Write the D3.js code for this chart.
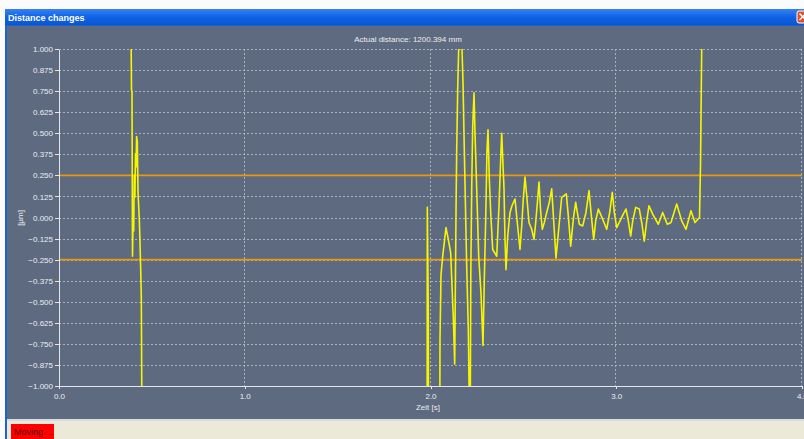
<!DOCTYPE html>
<meta charset="utf-8">
<style>
    body {
        margin: 0;
        background-color: #fbfbfb;
    }
    text {
        font-family: "Liberation Sans", Arial, sans-serif;
    }
    .grid line {
        stroke: #aab0bc;
        stroke-width: 1px;
        stroke-dasharray: 2,2;
        shape-rendering: crispEdges;
    }
    .axis path,
    .axis line {
        fill: none;
        stroke: #e4e6ea;
        stroke-width: 1px;
        shape-rendering: crispEdges;
    }
    .axis text {
        fill: #eceef2;
        font-size: 8px;
    }
</style>
<svg width="804" height="439"></svg>
<script src="https://d3js.org/d3.v7.min.js"></script>

<script>
    // time [s] and distance change [µm]; +-1.3 = off scale
    var timeSec = [
        0.3865, 0.3903, 0.3930, 0.3957, 0.3995, 0.4022, 0.4054, 0.4086, 0.4118, 0.4145,
        0.4178, 0.4215, 0.4253, 0.4323, 0.4361, 0.4398, 0.4431, 0.4468,
        1.9820, 1.9828, 1.9882, 1.9890,
        2.0500, 2.0511, 2.0565, 2.0657, 2.0834, 2.0958, 2.1087, 2.1174, 2.1228, 2.1303,
        2.1373, 2.1410, 2.1464, 2.1518, 2.1561, 2.1669, 2.1696, 2.1750, 2.1820, 2.1949,
        2.2035, 2.2089, 2.2143, 2.2170, 2.2218, 2.2272, 2.2342, 2.2396, 2.2487, 2.2595,
        2.2719, 2.2826, 2.2896, 2.2972, 2.3042, 2.3096, 2.3166, 2.3241, 2.3349, 2.3564,
        2.3688, 2.3796, 2.3833, 2.3957, 2.4011, 2.4065, 2.4156, 2.4280, 2.4388, 2.4549,
        2.4673, 2.4818, 2.4910, 2.4996, 2.5087, 2.5179, 2.5303, 2.5448, 2.5572, 2.5663,
        2.5771, 2.5841, 2.5933, 2.6019, 2.6127, 2.6256, 2.6396, 2.6525, 2.6756, 2.6918,
        2.7063, 2.7187, 2.7311, 2.7419, 2.7548, 2.7688, 2.7817, 2.7903, 2.8011, 2.8194,
        2.8371, 2.8533, 2.8641, 2.8786, 2.8894, 2.9034, 2.9270, 2.9486, 2.9663, 2.9787,
        2.9895, 3.0024, 3.0202, 3.0379, 3.0525, 3.0649, 3.0778, 3.0886, 3.1047, 3.1241,
        3.1386, 3.1510, 3.1640, 3.1763, 3.1962, 3.2264, 3.2500, 3.2748, 3.2947, 3.3254,
        3.3523, 3.3755, 3.4024, 3.4239, 3.4482, 3.4536, 3.4600, 3.4643
    ];
    var distUm = [
        1.30, 0.76, 0.74, -0.23, 0.05, -0.08, 0.25, 0.12, 0.38, 0.30,
        0.48, 0.45, 0.15, -0.01, -0.15, -0.31, -0.47, -1.30,
        -1.30, 0.06, -0.56, -1.30,
        -1.30, -0.73, -0.34, -0.23, -0.06, -0.13, -0.21, -0.45, -0.59, -0.87,
        0.03, 0.40, 0.76, 1.00, 1.30, 1.30, 1.00, 0.80, 0.40, -0.29,
        -0.66, -1.10, -1.10, -0.33, 0.17, 0.54, 0.74, 0.50, 0.17, -0.23,
        -0.45, -0.76, -0.37, -0.01, 0.40, 0.52, 0.23, 0.03, -0.19, -0.23,
        0.07, 0.40, 0.50, 0.17, -0.13, -0.31, -0.11, 0.03, 0.07, 0.11,
        -0.03, -0.19, -0.05, 0.11, 0.24, 0.13, -0.03, -0.07, -0.13, -0.03,
        0.11, 0.21, 0.03, -0.07, -0.03, 0.03, 0.09, 0.17, -0.24, -0.05,
        0.12, 0.13, 0.14, 0.01, -0.17, -0.01, 0.09, 0.03, -0.04, -0.05,
        0.03, 0.16, 0.03, -0.13, -0.02, 0.05, -0.01, -0.07, 0.04, 0.15,
        0.03, -0.06, -0.02, 0.02, 0.05, -0.02, -0.11, -0.02, 0.06, 0.05,
        -0.04, -0.14, -0.02, 0.07, 0.02, -0.04, 0.03, -0.04, -0.03, 0.08,
        -0.02, -0.07, 0.04, -0.03, 0.00, 0.31, 1.00, 1.30
    ];
    var limitLines = [0.25, -0.25];
    var yTicks = [1, 0.875, 0.75, 0.625, 0.5, 0.375, 0.25, 0.125, 0, -0.125, -0.25, -0.375, -0.5, -0.625, -0.75, -0.875, -1];
    var xTicks = [0, 1, 2, 3, 4];

    var svg = d3.select("svg"),
        margin = {top: 49, left: 59},
        width = 743,
        height = 337;

    // window chrome
    svg.append("rect").attr("x", 0).attr("y", 0).attr("width", 804).attr("height", 439).attr("fill", "#fbfbfb");
    var tb = svg.append("defs").append("linearGradient").attr("id", "tb").attr("x1", 0).attr("y1", 0).attr("x2", 0).attr("y2", 1);
    tb.append("stop").attr("offset", "0").attr("stop-color", "#3582f4");
    tb.append("stop").attr("offset", "0.5").attr("stop-color", "#0f63e6");
    tb.append("stop").attr("offset", "1").attr("stop-color", "#0a57d0");
    svg.append("rect").attr("x", 5).attr("y", 9).attr("width", 799).attr("height", 430).attr("fill", "#1b62d8");
    svg.append("rect").attr("x", 5).attr("y", 9).attr("width", 799).attr("height", 16).attr("fill", "url(#tb)");
    svg.append("text").attr("x", 8).attr("y", 21)
        .style("font-size", "9px").style("font-weight", "bold").attr("fill", "#ffffff")
        .text("Distance changes");
    svg.append("rect").attr("x", 797).attr("y", 11).attr("width", 12).attr("height", 12).attr("rx", 2)
        .attr("fill", "#e0512b").attr("stroke", "#ffffff").attr("stroke-width", 1);
    svg.append("path").attr("d", "M799.5,13.5L806,20M806,13.5L799.5,20").attr("stroke", "#ffffff").attr("stroke-width", 1.5);

    // chart panel
    svg.append("rect").attr("x", 7).attr("y", 26).attr("width", 797).attr("height", 393).attr("fill", "#5e6a7f");
    svg.append("rect").attr("x", 7).attr("y", 419).attr("width", 797).attr("height", 2).attr("fill", "#d8dbe2");
    svg.append("rect").attr("x", 7).attr("y", 421).attr("width", 797).attr("height", 18).attr("fill", "#ece9d8");
    svg.append("rect").attr("x", 11).attr("y", 424).attr("width", 43).attr("height", 15).attr("fill", "#ff0000");
    svg.append("text").attr("x", 14).attr("y", 435).style("font-size", "9px").attr("fill", "#5a0000").text("Moving ...");

    var x = d3.scaleLinear().domain([0, 4]).range([0, width]);
    var y = d3.scaleLinear().domain([-1, 1]).range([height, 0]);

    var g = svg.append("g")
        .attr("transform", "translate(" + margin.left + "," + margin.top + ")");

    g.append("defs").append("clipPath").attr("id", "plot")
        .append("rect").attr("width", width + 1).attr("height", height);

    // dashed grid
    g.append("g").attr("class", "grid")
        .selectAll("line").data(yTicks.filter(function(d) { return d !== -1; }))
        .enter().append("line")
        .attr("x1", 0).attr("x2", width)
        .attr("y1", function(d) { return Math.round(y(d)) + 0.5; })
        .attr("y2", function(d) { return Math.round(y(d)) + 0.5; });
    g.append("g").attr("class", "grid")
        .selectAll("line").data(xTicks.filter(function(d) { return d !== 0; }))
        .enter().append("line")
        .attr("y1", 0).attr("y2", height)
        .attr("x1", function(d) { return Math.round(x(d)) - 0.5; })
        .attr("x2", function(d) { return Math.round(x(d)) - 0.5; });

    // limit lines
    g.selectAll(".limit").data(limitLines)
        .enter().append("line").attr("class", "limit")
        .attr("x1", 0).attr("x2", width)
        .attr("y1", function(d) { return y(d); })
        .attr("y2", function(d) { return y(d); })
        .attr("stroke", "#e8980e").attr("stroke-width", 1.6);

    // axes
    g.append("g")
        .attr("class", "x axis")
        .attr("transform", "translate(0," + height + ")")
        .call(d3.axisBottom(x).tickValues(xTicks).tickSize(3).tickSizeOuter(0).tickFormat(d3.format(".1f")));

    g.append("g")
        .attr("class", "y axis")
        .call(d3.axisLeft(y).tickValues(yTicks).tickSize(4).tickSizeOuter(0).tickFormat(d3.format(".3f")));

    g.selectAll(".x.axis text").attr("dy", "0.9em");
    g.selectAll(".y.axis text").attr("x", -6);

    // signal
    var pts = timeSec.map(function(t, i) { return [t, distUm[i]]; });
    g.append("path")
        .datum(pts)
        .attr("clip-path", "url(#plot)")
        .attr("fill", "none")
        .attr("stroke", "#f6f600")
        .attr("stroke-width", 1.6)
        .attr("stroke-linejoin", "round")
        .attr("d", d3.line().x(function(d) { return x(d[0]); }).y(function(d) { return y(d[1]); }));

    // labels
    svg.append("text").attr("x", 408).attr("y", 42).attr("text-anchor", "middle")
        .style("font-size", "8px").attr("fill", "#eceef2")
        .text("Actual distance: 1200.394 mm");
    svg.append("text").attr("x", 428).attr("y", 410).attr("text-anchor", "middle")
        .style("font-size", "8px").attr("fill", "#eceef2")
        .text("Zeit [s]");
    svg.append("text").attr("transform", "translate(23,218) rotate(-90)").attr("text-anchor", "middle")
        .style("font-size", "8px").attr("fill", "#eceef2")
        .text("[µm]");
</script>
